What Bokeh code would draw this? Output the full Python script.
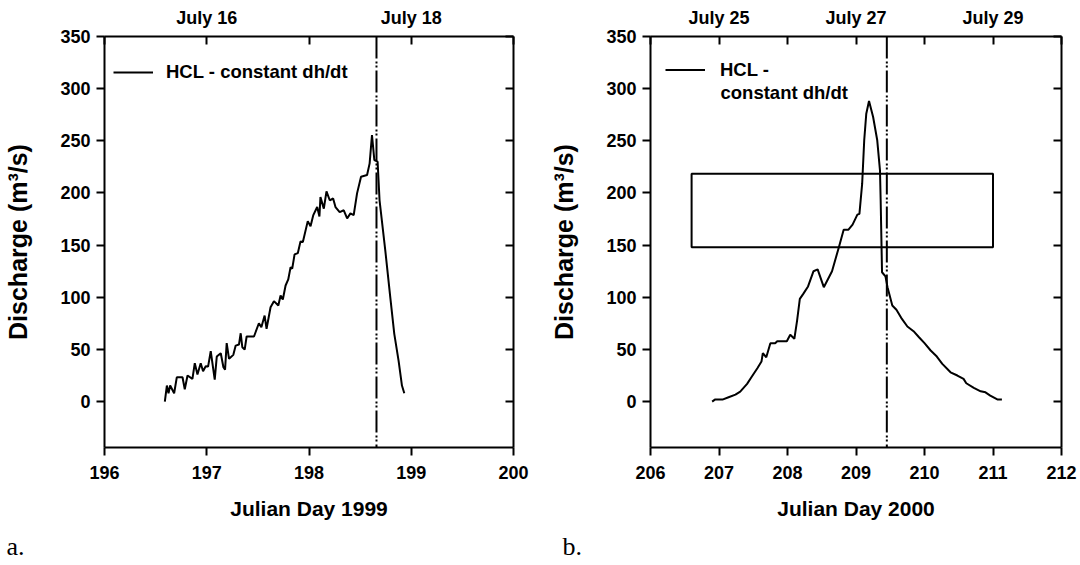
from bokeh.plotting import figure
from bokeh.layouts import row, column
from bokeh.models import Range1d, LinearAxis, FixedTicker, Span, Label
from bokeh.embed import file_html
from bokeh.resources import INLINE

# ---------------- data ----------------
day_1999 = [196.590, 196.610, 196.626, 196.642, 196.681, 196.707, 196.763, 196.785,
            196.812, 196.860, 196.883, 196.909, 196.941, 196.964, 196.990, 197.013,
            197.039, 197.078, 197.098, 197.137, 197.163, 197.179, 197.195, 197.218,
            197.260, 197.283, 197.315, 197.332, 197.348, 197.371, 197.390, 197.462,
            197.510, 197.534, 197.566, 197.585, 197.624, 197.657, 197.700, 197.722,
            197.744, 197.771, 197.797, 197.820, 197.836, 197.859, 197.891, 197.917,
            197.940, 197.988, 198.015, 198.041, 198.080, 198.102, 198.112, 198.145,
            198.171, 198.203, 198.236, 198.259, 198.300, 198.340, 198.373, 198.405,
            198.437, 198.470, 198.509, 198.568, 198.593, 198.616, 198.639, 198.671,
            198.690, 198.746, 198.795, 198.834, 198.876, 198.909, 198.932]
q_1999 = [0.0, 15.4, 8.0, 15.4, 8.0, 23.3, 23.3, 11.8,
          25.0, 21.8, 36.8, 25.9, 36.8, 29.1, 33.9, 33.6,
          48.3, 21.1, 43.2, 46.4, 32.9, 30.7, 56.0, 41.0,
          44.8, 53.7, 54.7, 65.5, 52.1, 49.9, 62.4, 62.4,
          75.1, 71.3, 82.5, 69.8, 90.5, 96.3, 92.1, 101.7,
          97.9, 111.3, 117.1, 128.9, 127.4, 141.1, 142.4, 153.6,
          153.0, 173.0, 168.0, 178.5, 186.5, 177.5, 196.0, 185.0,
          201.5, 193.0, 194.7, 186.5, 181.7, 183.4, 175.6, 180.4,
          178.8, 199.6, 215.6, 217.2, 228.4, 255.6, 231.6, 230.0,
          193.0, 145.0, 100.0, 65.0, 39.3, 15.4, 8.0]

day_2000 = [206.90, 206.94, 207.05, 207.14, 207.24, 207.31, 207.41, 207.48,
            207.56, 207.62, 207.64, 207.69, 207.75, 207.82, 207.85, 207.99,
            208.04, 208.10, 208.14, 208.18, 208.23, 208.30, 208.38, 208.44,
            208.53, 208.65, 208.75, 208.82, 208.89, 208.95, 209.02, 209.05,
            209.09, 209.12, 209.15, 209.19, 209.25, 209.31, 209.35, 209.36,
            209.38, 209.43, 209.46, 209.53, 209.59, 209.66, 209.75, 209.84,
            209.92, 210.00, 210.09, 210.18, 210.26, 210.38, 210.48, 210.57,
            210.61, 210.72, 210.82, 210.89, 210.96, 211.07, 211.13]
q_2000 = [0.0, 1.9, 1.9, 4.2, 6.7, 9.6, 17.0, 24.0,
          32.0, 38.4, 46.4, 42.5, 56.0, 56.0, 57.9, 57.9,
          64.0, 60.2, 77.7, 98.5, 103.3, 110.4, 125.0, 126.7,
          109.7, 125.0, 148.0, 164.8, 164.8, 169.6, 179.2, 180.0,
          208.9, 250.5, 276.0, 288.2, 272.8, 250.5, 221.7, 193.0,
          124.0, 120.0, 109.7, 92.1, 88.0, 80.3, 72.0, 67.5,
          61.7, 56.0, 49.0, 43.2, 36.2, 28.1, 25.0, 21.8,
          17.6, 13.1, 9.9, 8.9, 5.8, 1.9, 1.9]

y_ticks = [0, 50, 100, 150, 200, 250, 300, 350]
x_ticks_1999 = [196, 197, 198, 199, 200]
x_ticks_2000 = [206, 207, 208, 209, 210, 211, 212]
top_labels_1999 = {197: "July 16", 199: "July 18"}
top_labels_2000 = {207: "July 25", 209: "July 27", 211: "July 29"}
marker_1999 = 198.66
marker_2000 = 209.45
box_2000_left = [206.6]
box_2000_right = [211.0]
box_2000_bottom = [148.0]
box_2000_top = [218.5]

legend_text = "HCL - constant dh/dt"
legend_text_line1 = "HCL -"
legend_text_line2 = "constant dh/dt"
y_title = "Discharge (m\u00b3/s)"
panel_tags = ["a.", "b."]

FONT = "Liberation Sans"
SERIF = "Liberation Serif"
PANEL_H = 530
STRIP_H = 565 - PANEL_H


def style_axis(ax, tick_in, tick_out):
    ax.major_tick_in = tick_in
    ax.major_tick_out = tick_out
    ax.minor_tick_line_color = None
    ax.axis_line_width = 2
    ax.axis_line_color = "black"
    ax.major_tick_line_width = 2
    ax.major_tick_line_color = "black"
    ax.major_label_text_font = FONT
    ax.major_label_text_font_style = "bold"
    ax.major_label_text_font_size = "18px"
    ax.major_label_text_color = "black"


def make_panel(x0, x1, x_ticks, top_labels, marker, x_title,
               border_left, border_right):
    p = figure(width=540, height=PANEL_H, x_range=Range1d(x0, x1),
               y_range=Range1d(-44, 350), output_backend="svg",
               toolbar_location=None,
               min_border_left=border_left, min_border_right=border_right,
               min_border_top=36, min_border_bottom=PANEL_H - 447)
    p.xgrid.visible = False
    p.ygrid.visible = False
    p.outline_line_color = None
    p.background_fill_color = "white"
    p.border_fill_color = "white"

    ya = p.yaxis[0]
    ya.ticker = FixedTicker(ticks=y_ticks)
    style_axis(ya, 0, 8)
    ya.major_label_standoff = 6
    ya.axis_label = y_title
    ya.axis_label_text_font = FONT
    ya.axis_label_text_font_style = "bold"
    ya.axis_label_text_font_size = "25px"
    ya.axis_label_text_color = "black"
    ya.axis_label_standoff = 25

    xa = p.xaxis[0]
    xa.ticker = FixedTicker(ticks=x_ticks)
    style_axis(xa, 0, 8)
    xa.major_label_standoff = 10
    xa.axis_label = x_title
    xa.axis_label_text_font = FONT
    xa.axis_label_text_font_style = "bold"
    xa.axis_label_text_font_size = "21px"
    xa.axis_label_text_color = "black"
    xa.axis_label_standoff = 15

    top = LinearAxis(ticker=FixedTicker(ticks=x_ticks),
                     major_label_overrides={t: top_labels.get(t, "") for t in x_ticks})
    style_axis(top, 8, 0)
    top.major_label_standoff = 9
    p.add_layout(top, "above")

    right = LinearAxis(ticker=FixedTicker(ticks=y_ticks),
                       major_label_overrides={t: "" for t in y_ticks})
    style_axis(right, 8, 0)
    p.add_layout(right, "right")

    p.add_layout(Span(location=marker, dimension="height", line_color="black",
                      line_width=2, line_dash="22 3 2 2 2 3"))
    return p


def style_legend(lg, margin, gh, standoff):
    lg.location = "top_left"
    lg.margin = margin
    lg.padding = 0
    lg.glyph_width = 40
    lg.glyph_height = gh
    lg.label_height = gh
    lg.label_standoff = standoff
    lg.border_line_color = None
    lg.background_fill_alpha = 0
    lg.label_text_font = FONT
    lg.label_text_font_style = "bold"
    lg.label_text_font_size = "18.5px"
    lg.label_text_color = "black"


# ---------------- panel a ----------------
p1 = make_panel(196, 200, x_ticks_1999, top_labels_1999, marker_1999,
                "Julian Day 1999", 104, 27)
p1.line(day_1999, q_1999, line_color="black", line_width=2, legend_label=legend_text)
style_legend(p1.legend[0], 9, 54, 13)

# ---------------- panel b ----------------
p2 = make_panel(206, 212, x_ticks_2000, top_labels_2000, marker_2000,
                "Julian Day 2000", 110, 19)
p2.quad(left=box_2000_left, right=box_2000_right, bottom=box_2000_bottom,
        top=box_2000_top, fill_color=None, line_color="black", line_width=2)
p2.line(day_2000, q_2000, line_color="black", line_width=2, legend_label=legend_text_line1)
style_legend(p2.legend[0], 15, 37, 15)
p2.add_layout(Label(x=70, y=355, x_units="screen", y_units="screen",
                    text=legend_text_line2, text_font=FONT, text_font_size="18.5px",
                    text_font_style="bold", text_baseline="middle", text_color="black"))

# ---------------- strip with panel tags ----------------
p3 = figure(width=1080, height=STRIP_H, x_range=Range1d(0, 1080),
            y_range=Range1d(0, STRIP_H), output_backend="svg",
            toolbar_location=None, x_axis_type=None, y_axis_type=None,
            min_border=0)
p3.xgrid.visible = False
p3.ygrid.visible = False
p3.outline_line_color = None
p3.background_fill_color = "white"
p3.border_fill_color = "white"
for tag, sx in zip(panel_tags, [6, 562]):
    p3.add_layout(Label(x=sx, y=STRIP_H / 2 + 2, x_units="screen", y_units="screen",
                        text=tag, text_font=SERIF, text_font_size="26px",
                        text_baseline="middle", text_color="black"))

layout = column(row(p1, p2), p3)
open("out.html", "w").write(file_html(layout, INLINE))
